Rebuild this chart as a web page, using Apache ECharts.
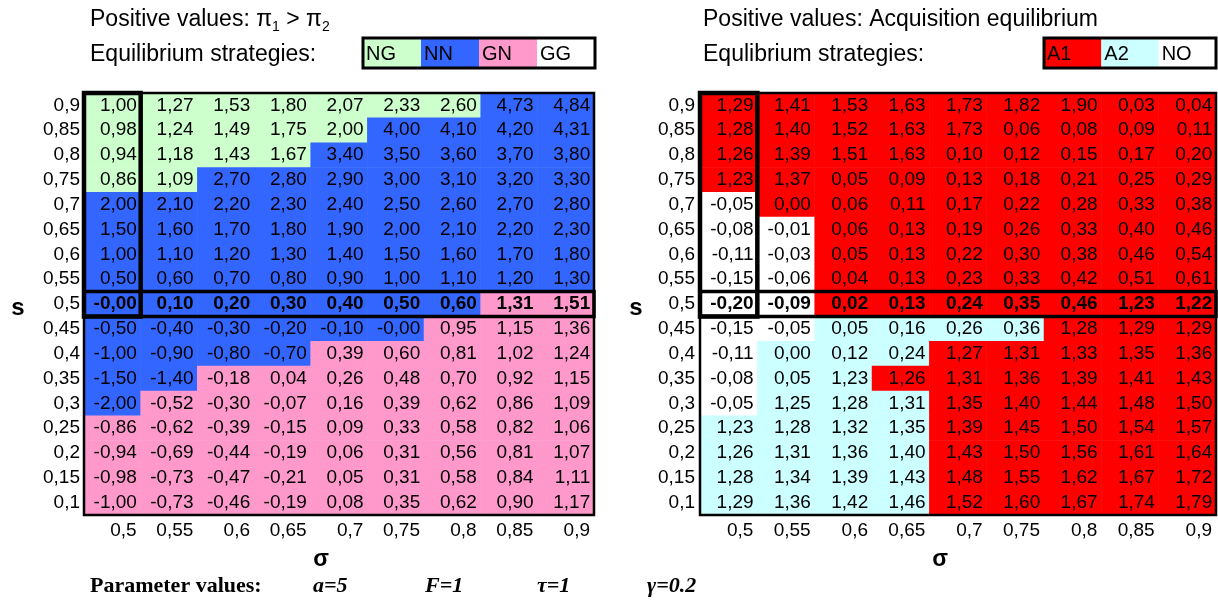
<!DOCTYPE html>
<html><head><meta charset="utf-8">
<script src="https://cdn.jsdelivr.net/npm/echarts@6/dist/echarts.min.js"></script>
<style>html,body{margin:0;padding:0;background:#fff}#c{width:1218px;height:600px}</style>
</head><body><div id="c"></div><script>
// ---- data ----
const sigmaLabels = ['0,5','0,55','0,6','0,65','0,7','0,75','0,8','0,85','0,9'];
const sLabels = ['0,9','0,85','0,8','0,75','0,7','0,65','0,6','0,55','0,5','0,45','0,4','0,35','0,3','0,25','0,2','0,15','0,1'];

const valuesLeft = [
  [1.00,1.27,1.53,1.80,2.07,2.33,2.60,4.73,4.84],
  [0.98,1.24,1.49,1.75,2.00,4.00,4.10,4.20,4.31],
  [0.94,1.18,1.43,1.67,3.40,3.50,3.60,3.70,3.80],
  [0.86,1.09,2.70,2.80,2.90,3.00,3.10,3.20,3.30],
  [2.00,2.10,2.20,2.30,2.40,2.50,2.60,2.70,2.80],
  [1.50,1.60,1.70,1.80,1.90,2.00,2.10,2.20,2.30],
  [1.00,1.10,1.20,1.30,1.40,1.50,1.60,1.70,1.80],
  [0.50,0.60,0.70,0.80,0.90,1.00,1.10,1.20,1.30],
  [-0,0.10,0.20,0.30,0.40,0.50,0.60,1.31,1.51],
  [-0.50,-0.40,-0.30,-0.20,-0.10,-0,0.95,1.15,1.36],
  [-1.00,-0.90,-0.80,-0.70,0.39,0.60,0.81,1.02,1.24],
  [-1.50,-1.40,-0.18,0.04,0.26,0.48,0.70,0.92,1.15],
  [-2.00,-0.52,-0.30,-0.07,0.16,0.39,0.62,0.86,1.09],
  [-0.86,-0.62,-0.39,-0.15,0.09,0.33,0.58,0.82,1.06],
  [-0.94,-0.69,-0.44,-0.19,0.06,0.31,0.56,0.81,1.07],
  [-0.98,-0.73,-0.47,-0.21,0.05,0.31,0.58,0.84,1.11],
  [-1.00,-0.73,-0.46,-0.19,0.08,0.35,0.62,0.90,1.17]
];
const strategyLeft = [
  ['NG','NG','NG','NG','NG','NG','NG','NN','NN'],
  ['NG','NG','NG','NG','NG','NN','NN','NN','NN'],
  ['NG','NG','NG','NG','NN','NN','NN','NN','NN'],
  ['NG','NG','NN','NN','NN','NN','NN','NN','NN'],
  ['NN','NN','NN','NN','NN','NN','NN','NN','NN'],
  ['NN','NN','NN','NN','NN','NN','NN','NN','NN'],
  ['NN','NN','NN','NN','NN','NN','NN','NN','NN'],
  ['NN','NN','NN','NN','NN','NN','NN','NN','NN'],
  ['NN','NN','NN','NN','NN','NN','NN','GN','GN'],
  ['NN','NN','NN','NN','NN','NN','GN','GN','GN'],
  ['NN','NN','NN','NN','GN','GN','GN','GN','GN'],
  ['NN','NN','GN','GN','GN','GN','GN','GN','GN'],
  ['NN','GN','GN','GN','GN','GN','GN','GN','GN'],
  ['GN','GN','GN','GN','GN','GN','GN','GN','GN'],
  ['GN','GN','GN','GN','GN','GN','GN','GN','GN'],
  ['GN','GN','GN','GN','GN','GN','GN','GN','GN'],
  ['GN','GN','GN','GN','GN','GN','GN','GN','GN']
];
const valuesRight = [
  [1.29,1.41,1.53,1.63,1.73,1.82,1.90,0.03,0.04],
  [1.28,1.40,1.52,1.63,1.73,0.06,0.08,0.09,0.11],
  [1.26,1.39,1.51,1.63,0.10,0.12,0.15,0.17,0.20],
  [1.23,1.37,0.05,0.09,0.13,0.18,0.21,0.25,0.29],
  [-0.05,0.00,0.06,0.11,0.17,0.22,0.28,0.33,0.38],
  [-0.08,-0.01,0.06,0.13,0.19,0.26,0.33,0.40,0.46],
  [-0.11,-0.03,0.05,0.13,0.22,0.30,0.38,0.46,0.54],
  [-0.15,-0.06,0.04,0.13,0.23,0.33,0.42,0.51,0.61],
  [-0.20,-0.09,0.02,0.13,0.24,0.35,0.46,1.23,1.22],
  [-0.15,-0.05,0.05,0.16,0.26,0.36,1.28,1.29,1.29],
  [-0.11,0.00,0.12,0.24,1.27,1.31,1.33,1.35,1.36],
  [-0.08,0.05,1.23,1.26,1.31,1.36,1.39,1.41,1.43],
  [-0.05,1.25,1.28,1.31,1.35,1.40,1.44,1.48,1.50],
  [1.23,1.28,1.32,1.35,1.39,1.45,1.50,1.54,1.57],
  [1.26,1.31,1.36,1.40,1.43,1.50,1.56,1.61,1.64],
  [1.28,1.34,1.39,1.43,1.48,1.55,1.62,1.67,1.72],
  [1.29,1.36,1.42,1.46,1.52,1.60,1.67,1.74,1.79]
];
const strategyRight = [
  ['A1','A1','A1','A1','A1','A1','A1','A1','A1'],
  ['A1','A1','A1','A1','A1','A1','A1','A1','A1'],
  ['A1','A1','A1','A1','A1','A1','A1','A1','A1'],
  ['A1','A1','A1','A1','A1','A1','A1','A1','A1'],
  ['NO','A1','A1','A1','A1','A1','A1','A1','A1'],
  ['NO','NO','A1','A1','A1','A1','A1','A1','A1'],
  ['NO','NO','A1','A1','A1','A1','A1','A1','A1'],
  ['NO','NO','A1','A1','A1','A1','A1','A1','A1'],
  ['NO','NO','A1','A1','A1','A1','A1','A1','A1'],
  ['NO','NO','A2','A2','A2','A2','A1','A1','A1'],
  ['NO','A2','A2','A2','A1','A1','A1','A1','A1'],
  ['NO','A2','A2','A1','A1','A1','A1','A1','A1'],
  ['NO','A2','A2','A2','A1','A1','A1','A1','A1'],
  ['A2','A2','A2','A2','A1','A1','A1','A1','A1'],
  ['A2','A2','A2','A2','A1','A1','A1','A1','A1'],
  ['A2','A2','A2','A2','A1','A1','A1','A1','A1'],
  ['A2','A2','A2','A2','A1','A1','A1','A1','A1']
];
const legendLeft = ['NG','NN','GN','GG'];
const legendRight = ['A1','A2','NO'];
const strategyColors = {NG:'#CCFFCC', NN:'#3366FF', GN:'#FF99CC', GG:'#FFFFFF', A1:'#FF0000', A2:'#CCFFFF', NO:'#FFFFFF'};
const boldRow = '0,5';
const framedColumn = '0,5';
const paramLabel = 'Parameter values:';
const params = ['a=5','F=1','τ=1','γ=0.2'];

// ---- chart ----
const FONT = 'Liberation Sans, Arial, Helvetica, sans-serif';
const SERIF = 'Liberation Serif, Times New Roman, serif';
const chart = echarts.init(document.getElementById('c'), null, {renderer:'canvas'});

function fmt(v){
  const neg = v < 0 || Object.is(v, -0);
  return (neg ? '-' : '') + Math.abs(v).toFixed(2).replace('.', ',');
}
function buildData(vals, strat){
  const out = [];
  vals.forEach((row, i) => row.forEach((v, j) => {
    const item = {value: [j, i, v], itemStyle: {color: strategyColors[strat[i][j]]}};
    if (sLabels[i] === boldRow) item.label = {fontWeight: 'bold'};
    out.push(item);
  }));
  return out;
}

const grids = [
  {left: 84, top: 93, width: 510, height: 422},
  {left: 700, top: 93, width: 516, height: 422}
];

function xAxisFor(gi){
  const cw = grids[gi].width / sigmaLabels.length;
  return {
    type: 'category', gridIndex: gi, data: sigmaLabels, position: 'bottom',
    axisLine: {show: false}, axisTick: {show: false}, splitLine: {show: false},
    axisLabel: {
      interval: 0, margin: 6,
      formatter: v => '{r|' + v + '}',
      rich: {r: {width: cw - 8, align: 'right', fontSize: 19, fontFamily: FONT, color: '#000'}}
    },
    name: 'σ', nameLocation: 'middle', nameGap: 33,
    nameTextStyle: {fontSize: 23, fontWeight: 'bold', fontFamily: FONT, color: '#000', padding: [0, 36, 0, 0]}
  };
}
function yAxisFor(gi){
  return {
    type: 'category', gridIndex: gi, data: sLabels, inverse: true,
    axisLine: {show: false}, axisTick: {show: false}, splitLine: {show: false},
    axisLabel: {interval: 0, margin: gi === 0 ? 4 : 5, fontSize: 19, fontFamily: FONT, color: '#000'}
  };
}
function seriesFor(gi, vals, strat){
  return {
    type: 'heatmap', xAxisIndex: gi, yAxisIndex: gi,
    data: buildData(vals, strat),
    itemStyle: {borderWidth: 0},
    label: {
      show: true, position: 'insideRight', distance: 4,
      fontSize: 19, fontFamily: FONT, color: '#000',
      formatter: p => fmt(p.data.value[2])
    },
    emphasis: {disabled: true},
    animation: false
  };
}

function legendGraphics(codes, x0, totalW){
  const w = totalW / codes.length, y = 38, h = 30;
  const els = [];
  codes.forEach((c, k) => {
    els.push({type: 'rect', shape: {x: x0 + k * w, y: y, width: w, height: h}, style: {fill: strategyColors[c]}, z: 50});
    els.push({type: 'text', x: x0 + k * w + 3, y: y + h / 2 + 1, style: {text: c, fontSize: 20, fontFamily: FONT, fill: '#000', verticalAlign: 'middle', align: 'left'}, z: 51});
  });
  els.push({type: 'rect', shape: {x: x0, y: y, width: totalW, height: h}, style: {fill: 'none', stroke: '#000', lineWidth: 3}, z: 52});
  return els;
}

const titleRich = {
  a: {fontSize: 23, fontFamily: FONT, fill: '#000', lineHeight: 28},
  sub: {fontSize: 14, fontFamily: FONT, fill: '#000', verticalAlign: 'bottom', lineHeight: 14}
};
const paramStyle = {fontSize: 22, fontWeight: 'bold', fontStyle: 'italic', fontFamily: SERIF, fill: '#000', verticalAlign: 'middle'};

const staticGraphics = [
  {type: 'text', x: 90, y: 20, style: {text: '{a|Positive values: π}{sub|1}{a| > π}{sub|2}', rich: titleRich, verticalAlign: 'middle'}},
  {type: 'text', x: 90, y: 55, style: {text: 'Equilibrium strategies:', fontSize: 23, fontFamily: FONT, fill: '#000', verticalAlign: 'middle'}},
  {type: 'text', x: 703, y: 20, style: {text: 'Positive values: Acquisition equilibrium', fontSize: 23, fontFamily: FONT, fill: '#000', verticalAlign: 'middle'}},
  {type: 'text', x: 703, y: 55, style: {text: 'Equlibrium strategies:', fontSize: 23, fontFamily: FONT, fill: '#000', verticalAlign: 'middle'}},
  {type: 'text', x: 18, y: 308, style: {text: 's', fontSize: 24, fontWeight: 'bold', fontFamily: FONT, fill: '#000', align: 'center', verticalAlign: 'middle'}},
  {type: 'text', x: 636, y: 308, style: {text: 's', fontSize: 24, fontWeight: 'bold', fontFamily: FONT, fill: '#000', align: 'center', verticalAlign: 'middle'}},
  {type: 'text', x: 90, y: 586, style: {text: paramLabel, fontSize: 22, fontWeight: 'bold', fontFamily: SERIF, fill: '#000', verticalAlign: 'middle'}},
  {type: 'text', x: 313, y: 586, style: Object.assign({text: params[0]}, paramStyle)},
  {type: 'text', x: 425, y: 586, style: Object.assign({text: params[1]}, paramStyle)},
  {type: 'text', x: 537, y: 586, style: Object.assign({text: params[2]}, paramStyle)},
  {type: 'text', x: 647, y: 586, style: Object.assign({text: params[3]}, paramStyle)}
].concat(legendGraphics(legendLeft, 363, 232), legendGraphics(legendRight, 1044, 172));

chart.setOption({
  animation: false,
  backgroundColor: '#fff',
  grid: grids,
  xAxis: [xAxisFor(0), xAxisFor(1)],
  yAxis: [yAxisFor(0), yAxisFor(1)],
  series: [seriesFor(0, valuesLeft, strategyLeft), seriesFor(1, valuesRight, strategyRight)],
  graphic: staticGraphics
});

// frames computed from the library's own scales
function framesFor(gi){
  const p0 = chart.convertToPixel({gridIndex: gi}, [0, 0]);
  const p1 = chart.convertToPixel({gridIndex: gi}, [1, 1]);
  const cw = p1[0] - p0[0], rh = p1[1] - p0[1];
  const x0 = p0[0] - cw / 2, y0 = p0[1] - rh / 2;
  const W = cw * sigmaLabels.length, H = rh * sLabels.length;
  const ib = sLabels.indexOf(boldRow), jc = sigmaLabels.indexOf(framedColumn);
  const st = lw => ({fill: 'none', stroke: '#000', lineWidth: lw});
  return [
    {type: 'rect', z: 100, shape: {x: x0, y: y0, width: W, height: H}, style: st(2.5)},
    {type: 'rect', z: 101, shape: {x: x0 + jc * cw, y: y0, width: cw, height: (ib + 1) * rh}, style: st(4.5)},
    {type: 'rect', z: 101, shape: {x: x0, y: y0 + ib * rh, width: W, height: rh}, style: st(3.5)}
  ];
}
chart.setOption({graphic: staticGraphics.concat(framesFor(0), framesFor(1))});
</script></body></html>
